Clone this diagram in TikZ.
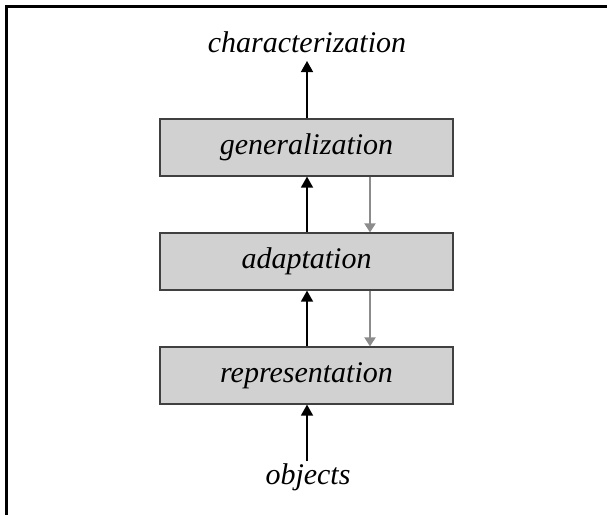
\documentclass[tikz,border=0pt]{standalone}
\usepackage{fontspec}
\setmainfont{Liberation Serif}
\usetikzlibrary{arrows.meta}
\begin{document}
\begin{tikzpicture}[x=1pt,y=-1pt,
    stage/.style={draw=black!75,line width=1.2pt,fill=black!18,minimum width=293pt,minimum height=57pt,font=\fontsize{30}{36}\selectfont\itshape},
    label/.style={font=\fontsize{30}{36}\selectfont\itshape,anchor=base},
    up/.style={-{Triangle[length=11pt,width=12pt]},line width=1.5pt,black},
    down/.style={-{Triangle[length=9pt,width=11pt]},line width=2pt,black!45}]
\useasboundingbox (0,0) rectangle (607,515);
% frame
\draw[line width=2.5pt] (607,6.5) -- (6.5,6.5) -- (6.5,515);
% stages
\node[stage] (gen) at (306.5,147.5) {generalization};
\node[stage] (adapt) at (306.5,261.5) {adaptation};
\node[stage] (rep) at (306.5,375.5) {representation};
\node[label] (char) at (307,52) {characterization};
\node[label] (obj) at (308,484) {objects};
%\node[label] (obj) at (307,490) {objects};
\coordinate (objtop) at (307,461);
\coordinate (chartip) at (307,61);
% upward flow
\draw[up] (objtop) -- (rep.south -| objtop);
\draw[up] (rep.north -| objtop) -- (adapt.south -| objtop);
\draw[up] (adapt.north -| objtop) -- (gen.south -| objtop);
\draw[up] (gen.north -| objtop) -- (chartip);
% feedback
\draw[down] (gen.south -| 370,0) -- (adapt.north -| 370,0);
\draw[down] (adapt.south -| 370,0) -- (rep.north -| 370,0);
\end{tikzpicture}
\end{document}
